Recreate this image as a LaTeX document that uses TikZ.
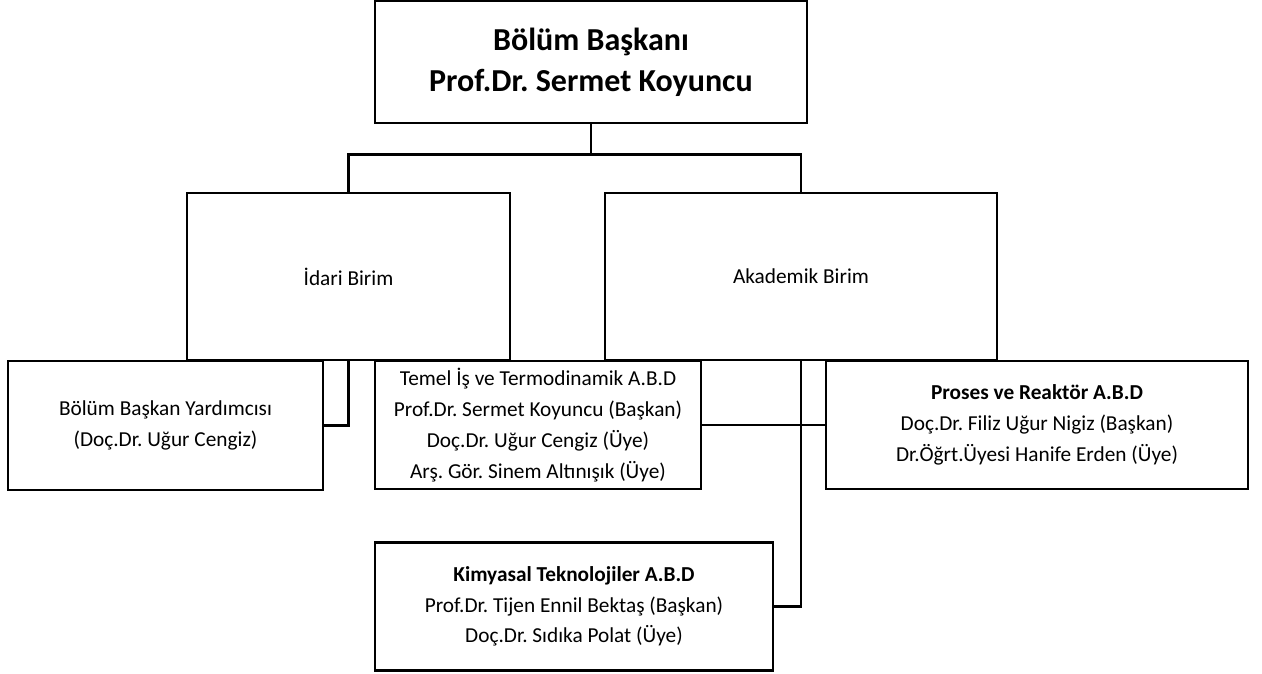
\documentclass[tikz,border=0pt]{standalone}
\usepackage{fontspec}
\setmainfont{Carlito}
\usetikzlibrary{calc}
\frenchspacing
\begin{document}
\begin{tikzpicture}[x=1pt,y=1pt,
  unitbox/.style={draw=black,line width=2.6pt,rectangle,align=center,inner sep=0pt,
    font={\fontsize{21.3}{30.8}\selectfont}},
  headbox/.style={unitbox,font={\fontsize{32}{41}\selectfont\bfseries}},
  link/.style={draw=black,line width=2.6pt,line cap=rect}]
\definecolor{fillColor}{RGB}{255,255,255}
\path[use as bounding box,fill=fillColor] (0,0) rectangle (1262,674);

\node[headbox,minimum width=432,minimum height=122] (boss) at (591,612)
  {Bölüm Başkanı\\Prof.Dr. Sermet Koyuncu};

\node[unitbox,minimum width=323,minimum height=167] (idari) at (348.5,397.5) {İdari Birim};
\node[unitbox,minimum width=392,minimum height=167] (akad) at (801,397.5) {Akademik Birim};

\node[unitbox,minimum width=315,minimum height=129] (yard) at (165.5,248.5)
  {Bölüm Başkan Yardımcısı\\(Doç.Dr. Uğur Cengiz)};

\node[unitbox,minimum width=326,minimum height=128] (temel) at (538,249)
  {Temel İş ve Termodinamik A.B.D\\Prof.Dr. Sermet Koyuncu (Başkan)\\Doç.Dr. Uğur Cengiz (Üye)\\Arş. Gör. Sinem Altınışık (Üye)};

\node[unitbox,minimum width=422,minimum height=128] (proses) at (1037,249)
  {\textbf{Proses ve Reaktör A.B.D}\\Doç.Dr. Filiz Uğur Nigiz (Başkan)\\Dr.Öğrt.Üyesi Hanife Erden (Üye)};

\node[unitbox,minimum width=398,minimum height=128] (kimya) at (574,67.5)
  {\textbf{Kimyasal Teknolojiler A.B.D}\\Prof.Dr. Tijen Ennil Bektaş (Başkan)\\Doç.Dr. Sıdıka Polat (Üye)};

\coordinate (split) at ($(boss.south)+(0,-30)$);
\draw[link] (boss.south) -- (split);
\draw[link,line cap=butt] (split) -| (idari.north);
\draw[link,line cap=butt] (split) -| (akad.north);
\draw[link,line cap=butt] (idari.south) |- (yard.east);
\draw[link,line cap=butt] (akad.south) |- (kimya.east);
\draw[link,line cap=butt] (temel.east) -- (proses.west);
\end{tikzpicture}
\end{document}
